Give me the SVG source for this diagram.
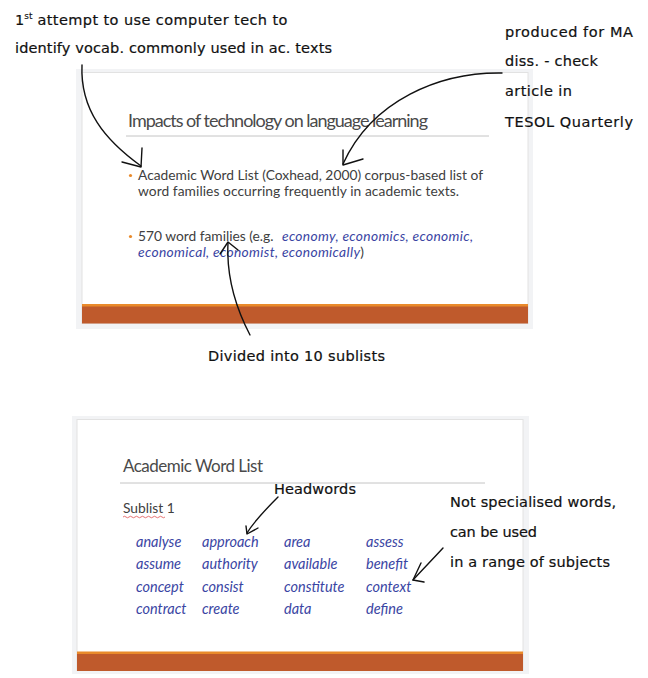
<svg xmlns="http://www.w3.org/2000/svg" width="648" height="678" viewBox="0 0 648 678">
<style>
.hand{font-family:"DejaVu Sans","Noto Sans",sans-serif;font-size:14.5px;fill:#111;stroke:#111;stroke-width:0.2;}
.title{font-family:Lato,"Open Sans",sans-serif;font-weight:400;fill:#4a4a4a;}
.body{font-family:Lato,"Open Sans",sans-serif;font-size:13.8px;fill:#404040;}
.blue{fill:#3a45a3;font-style:italic;}
.word{font-family:Lato,"Open Sans",sans-serif;font-size:14.5px;fill:#3a45a3;font-style:italic;}
.conn{fill:none;stroke:#111;stroke-width:1.4;stroke-linecap:round;stroke-linejoin:round;}
.shadow{fill:#f2f3f5;}
.slide{fill:#fff;stroke:#e2e2e2;stroke-width:1;}
.rule{stroke:#c4c4c4;stroke-width:1;}
.strip{fill:#e98a2b;}
.bar{fill:#bf5a2c;}
</style>

<g id="slide1">
  <rect class="shadow" x="76" y="69" width="457" height="260"/>
  <rect class="slide" x="82" y="72.5" width="446" height="251"/>
  <rect class="strip" x="82" y="304" width="446" height="3"/>
  <rect class="bar" x="82" y="306.5" width="446" height="17"/>
  <text class="title" x="128" y="127" font-size="18" textLength="300">Impacts of technology on language learning</text>
  <line class="rule" x1="126" y1="136" x2="489" y2="136"/>
  <circle cx="130.5" cy="175.5" r="1.6" fill="#e98a2b"/>
  <text class="body" x="138" y="180" textLength="345">Academic Word List (Coxhead,  2000) corpus-based list of</text>
  <text class="body" x="138" y="196" textLength="321">word families occurring  frequently in academic texts.</text>
  <circle cx="130.5" cy="236.5" r="1.6" fill="#e98a2b"/>
  <text class="body" x="138" y="241"><tspan textLength="139">570 word families (e.g. </tspan><tspan class="blue" x="282" textLength="191">economy, economics, economic,</tspan></text>
  <text class="body" x="138" y="257"><tspan class="blue" textLength="222">economical, economist, economically</tspan><tspan>)</tspan></text>
</g>

<g id="slide2">
  <rect class="shadow" x="72" y="416" width="457" height="258"/>
  <rect class="slide" x="77" y="419.5" width="446" height="251"/>
  <rect class="strip" x="77" y="651.5" width="446" height="3"/>
  <rect class="bar" x="77" y="654" width="446" height="17"/>
  <text class="title" x="123" y="472" font-size="17" textLength="140">Academic Word List</text>
  <line class="rule" x1="120" y1="483" x2="485" y2="483"/>
  <text class="body" x="123" y="513">Sublist 1</text>
  <path d="M123,517 q1.5,-1.5 3,0 t3,0 t3,0 t3,0 t3,0 t3,0 t3,0 t3,0 t3,0 t3,0 t3,0 t3,0 t3,0 t3,0" fill="none" stroke="#e05050" stroke-width="0.8"/>
  <text class="word" x="136" y="547">analyse</text>
  <text class="word" x="202" y="547">approach</text>
  <text class="word" x="284" y="547">area</text>
  <text class="word" x="366" y="547">assess</text>
  <text class="word" x="136" y="569">assume</text>
  <text class="word" x="202" y="569">authority</text>
  <text class="word" x="284" y="569">available</text>
  <text class="word" x="366" y="569">benefit</text>
  <text class="word" x="136" y="592">concept</text>
  <text class="word" x="202" y="592">consist</text>
  <text class="word" x="284" y="592">constitute</text>
  <text class="word" x="366" y="592">context</text>
  <text class="word" x="136" y="614">contract</text>
  <text class="word" x="202" y="614">create</text>
  <text class="word" x="284" y="614">data</text>
  <text class="word" x="366" y="614">define</text>
</g>

<g id="note-first">
  <text class="hand" x="15" y="25"><tspan>1</tspan><tspan font-size="9" stroke-width="0.1" dy="-6">st</tspan><tspan dy="6" textLength="255"> attempt to use computer tech to</tspan></text>
  <text class="hand" x="15" y="53" textLength="317">identify vocab. commonly used in ac. texts</text>
</g>
<g id="note-produced">
  <text class="hand" x="505" y="37" textLength="128">produced for MA</text>
  <text class="hand" x="505" y="66" textLength="93">diss. - check</text>
  <text class="hand" x="505" y="96" textLength="67">article in</text>
  <text class="hand" x="505" y="127" textLength="128">TESOL Quarterly</text>
</g>
<g id="note-divided">
  <text class="hand" x="208" y="361" textLength="177">Divided into 10 sublists</text>
</g>
<g id="note-headwords">
  <text class="hand" x="274" y="494" textLength="82">Headwords</text>
</g>
<g id="note-notspecialised">
  <text class="hand" x="450" y="507" textLength="166">Not specialised words,</text>
  <text class="hand" x="450" y="537" textLength="87">can be used</text>
  <text class="hand" x="450" y="567" textLength="160">in a range of subjects</text>
</g>

<g id="connectors">
  <path class="conn" d="M82,65 C80,110 105,140 141,166"/>
  <path class="conn" d="M142,148 L141,167 L122,162"/>
  <path class="conn" d="M502,73 C440,72 372,100 343,164"/>
  <path class="conn" d="M343,150 L343,165 L363,159"/>
  <path class="conn" d="M250,335 C238,312 226,282 228,243"/>
  <path class="conn" d="M220,254 L228,242 L238,250"/>
  <path class="conn" d="M278,497 C266,509 255,520 247,533"/>
  <path class="conn" d="M246,526 L247,534 L258,528"/>
  <path class="conn" d="M443,548 C432,560 422,570 413,580"/>
  <path class="conn" d="M421,563 L413,580 L424,582"/>
</g>
</svg>
